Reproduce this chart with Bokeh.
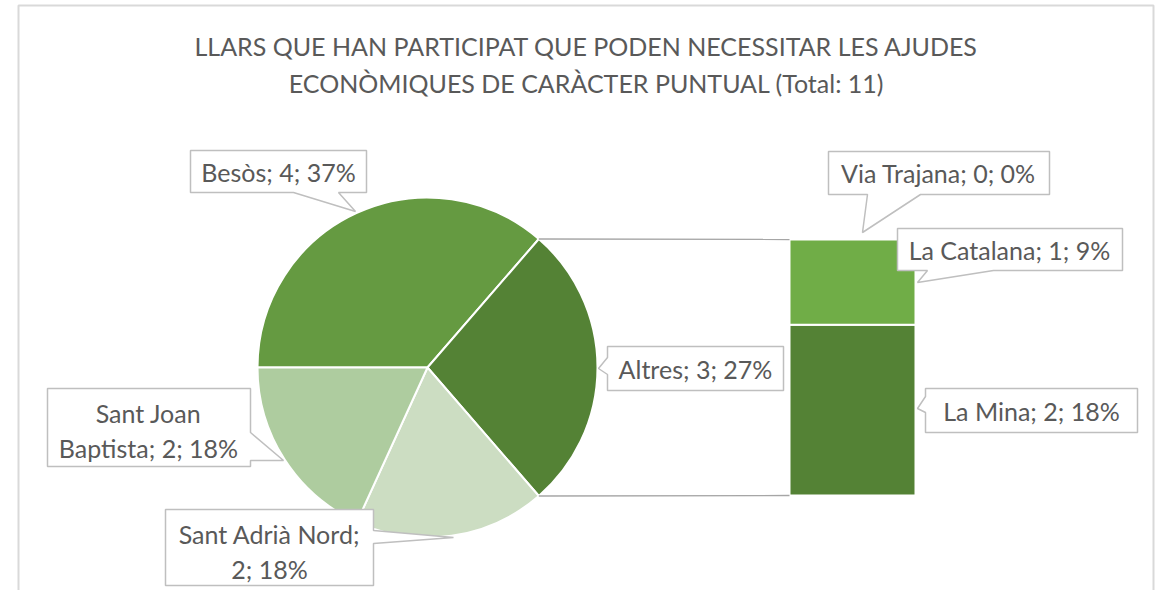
import math
from bokeh.plotting import figure
from bokeh.models import Range1d
from bokeh.core.properties import value
from bokeh.embed import file_html
from bokeh.resources import INLINE

# ---------------- data ----------------
title_lines = ["LLARS QUE HAN PARTICIPAT QUE PODEN NECESSITAR LES AJUDES",
               "ECONÒMIQUES DE CARÀCTER PUNTUAL (Total: 11)"]
pie_labels = ["Besòs", "Altres", "Sant Adrià Nord", "Sant Joan Baptista"]
pie_values = [4, 3, 2, 2]
pie_pcts = ["37%", "27%", "18%", "18%"]
pie_colors = ["#659A41", "#548235", "#CCDDC2", "#AECC9F"]
bar_labels = ["La Mina", "La Catalana", "Via Trajana"]
bar_values = [2, 1, 0]
bar_pcts = ["18%", "9%", "0%"]
bar_colors = ["#548235", "#70AD47", "#A9D18E"]

# ---------------- layout ----------------
W, H = 1156, 590
FONT = value("Lato")
TXT = "#595959"
EDGE = "#BFBFBF"

p = figure(width=W, height=H, output_backend="svg", toolbar_location=None,
           x_range=Range1d(0, W), y_range=Range1d(-H, 0),
           min_border=0, min_border_left=0, min_border_right=0,
           min_border_top=0, min_border_bottom=0)
p.axis.visible = False
p.grid.visible = False
p.outline_line_color = None
p.background_fill_color = "white"
p.border_fill_color = "white"

def Y(sy):
    return -sy

# chart border
p.line([18, 18, 1153, 1153], [Y(600), Y(5), Y(5), Y(600)], line_color="#D9D9D9", line_width=2)

# title
for i, t in enumerate(title_lines):
    p.text(x=[586], y=[Y(45 + 37 * i)], text=[t], text_align="center", text_baseline="middle",
           text_font=FONT, text_font_size="25px", text_color=TXT)

# ---------------- pie ----------------
cx, cy, R = 427, 367, 170
total = sum(pie_values)
fr = [v / total for v in pie_values]
alt_i = pie_labels.index("Altres")
# Altres slice is centred on the right (towards the bar); Besòs precedes it clockwise
start = 2 * math.pi * (fr[alt_i] / 2 + sum(fr[:alt_i]))
starts, ends = [], []
a = start
for f in fr:
    starts.append(a)
    a -= 2 * math.pi * f
    ends.append(a)
p.wedge(x=[cx] * len(fr), y=[Y(cy)] * len(fr), radius=R,
        start_angle=ends, end_angle=starts, direction="anticlock",
        fill_color=pie_colors, line_color="white", line_width=2)

# ---------------- bar ----------------
bar_top, bar_bot = 239, 495
bx0, bx1 = 789, 915
unit = (bar_bot - bar_top) / sum(bar_values)
cum = 0
for v, c in zip(bar_values, bar_colors):
    if v > 0:
        b = bar_bot - cum * unit
        t = bar_bot - (cum + v) * unit
        p.quad(left=[bx0], right=[bx1], bottom=[Y(b)], top=[Y(t)],
               fill_color=c, line_color="white", line_width=2)
    cum += v

# connectors
a_top = starts[alt_i]
a_bot = ends[alt_i]
p.line([cx + R * math.cos(a_top), bx0], [Y(cy) + R * math.sin(a_top), Y(bar_top)],
       line_color="#A6A6A6", line_width=1.3)
p.line([cx + R * math.cos(a_bot), bx0], [Y(cy) + R * math.sin(a_bot), Y(bar_bot)],
       line_color="#A6A6A6", line_width=1.3)

# ---------------- callouts ----------------
def callout(poly, lines, centers):
    xs = [q[0] for q in poly]
    ys = [Y(q[1]) for q in poly]
    p.patch(xs, ys, fill_color="white", line_color=EDGE, line_width=1.5)
    for ln, (tx, ty) in zip(lines, centers):
        p.text(x=[tx], y=[Y(ty)], text=[ln], text_align="center", text_baseline="middle",
               text_font=FONT, text_font_size="25px", text_color=TXT)

def lab(name, v, pct):
    return f"{name}; {v}; {pct}"

pl = {n: lab(n, v, pc) for n, v, pc in zip(pie_labels, pie_values, pie_pcts)}
bl = {n: lab(n, v, pc) for n, v, pc in zip(bar_labels, bar_values, bar_pcts)}

# Besòs
callout([(190, 150), (366, 150), (366, 192), (338, 192), (355, 211), (293, 192), (190, 192)],
        [pl["Besòs"]], [(278, 171)])
# Altres
callout([(607, 346), (783, 346), (783, 390), (607, 390), (607, 374), (598, 368), (607, 357)],
        [pl["Altres"]], [(695, 368)])
# Sant Joan Baptista
s = pl["Sant Joan Baptista"]
callout([(47, 388), (250, 388), (250, 432), (283, 460), (250, 460), (250, 466), (47, 466)],
        [s[:9], s[10:]], [(148, 412), (148, 447)])
# Sant Adrià Nord
s = pl["Sant Adrià Nord"]
callout([(165, 509), (373, 509), (373, 530), (453, 537), (373, 543), (373, 585), (165, 585)],
        [s[:16], s[17:]], [(269, 533), (269, 568)])
# Via Trajana
callout([(828, 151), (1049, 151), (1049, 194), (920, 194), (862, 232), (867, 194), (828, 194)],
        [bl["Via Trajana"]], [(938, 172)])
# La Catalana
callout([(897, 228), (1122, 228), (1122, 270), (993, 270), (917, 282), (927, 270), (897, 270)],
        [bl["La Catalana"]], [(1009, 249)])
# La Mina
callout([(925, 388), (1137, 388), (1137, 432), (925, 432), (925, 412), (917, 408), (925, 396)],
        [bl["La Mina"]], [(1031, 410)])

open("out.html", "w").write(file_html(p, INLINE))
